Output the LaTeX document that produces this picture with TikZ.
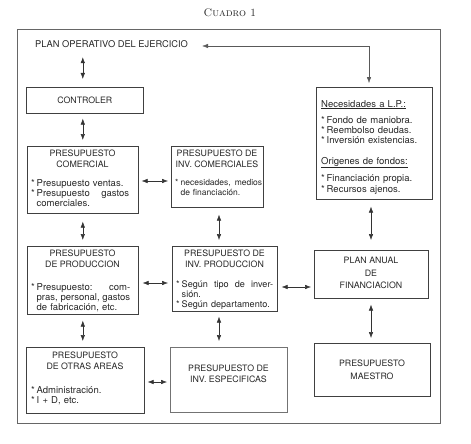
\documentclass[tikz,border=0pt]{standalone}
\usepackage{fontspec}
\usetikzlibrary{arrows.meta,calc}
\newfontfamily\hel{TeX Gyre Heros}
\newcommand\itm{\makebox[5.5pt][l]{*}}
\newcommand\ind{\hspace*{5.5pt}}
\begin{document}
\begin{tikzpicture}[x=1pt,y=-1pt,
  box/.style={draw=black!75,line width=0.6pt,inner sep=0pt,anchor=north west},
  ttl/.style={font=\hel\fontsize{8.8}{10.5}\selectfont,align=center,anchor=north,inner sep=0pt,text=black!85},
  txt/.style={font=\hel\fontsize{9.5}{10}\selectfont,align=left,anchor=north west,inner sep=0pt,text=black!85},
  dbl/.style={{Latex[length=6pt,width=4.5pt]}-{Latex[length=6pt,width=4.5pt]},line width=0.5pt,draw=black!80},
  conn/.style={line width=0.4pt,draw=black!65}]
\useasboundingbox (0,0) rectangle (471,444);
% title and frame
\node[font=\fontsize{11}{13}\selectfont,text=black!85] (cuadro) at (230,13) {\textsc{Cuadro 1}};
\node[box,minimum width=423pt,minimum height=394pt,draw=black!60] (frame) at (17,29) {};
% plan operativo
\node[txt,anchor=west,font=\hel\fontsize{9.3}{10}\selectfont] (plan) at (35,46) {\strut PLAN OPERATIVO DEL EJERCICIO};
% boxes
\node[box,minimum width=117pt,minimum height=26pt,font=\hel\fontsize{8.8}{10}\selectfont,text=black!85] (ctrl) at (26,87) {CONTROLER};
\node[box,minimum width=111pt,minimum height=67pt] (com) at (27,146) {};
\node[box,minimum width=92pt,minimum height=61pt] (invc) at (171,146) {};
\node[box,minimum width=116pt,minimum height=112pt] (nec) at (316,87) {};
\node[box,minimum width=111pt,minimum height=68pt] (prod) at (27,246) {};
\node[box,minimum width=105pt,minimum height=65pt] (invp) at (172,246) {};
\node[box,minimum width=114pt,minimum height=48pt] (pa) at (314,250) {};
\node[box,minimum width=118pt,minimum height=66pt] (otr) at (26,347) {};
\node[box,minimum width=117pt,minimum height=65pt,draw=black!55] (inve) at (170,347) {};
\node[box,minimum width=116pt,minimum height=53pt] (mae) at (314,343) {};
% texts
\node[ttl] (comt) at (82.5,150) {PRESUPUESTO\\COMERCIAL};
\node[txt,text width=98pt] (comi) at (31,179) {\itm Presupuesto ventas.\\\makebox[98pt][l]{\itm Presupuesto\hfill gastos}\\\ind comerciales.};
\node[ttl] (invct) at (217,150) {PRESUPUESTO DE\\INV. COMERCIALES};
\node[txt,text width=87pt,font=\hel\fontsize{8.5}{10.5}\selectfont] (invci) at (175,179) {\makebox[87pt][l]{\itm necesidades,\hfill medios}\\\ind de financiación.};
\node[txt,text width=110pt] (neci) at (321,100) {\underline{Necesidades a L.P.:}\\[6pt]\itm Fondo de maniobra.\\\itm Reembolso deudas.\\\itm Inversión existencias.\\[11pt]\underline{Origenes de fondos:}\\[5pt]\itm Financiación propia.\\[1pt]\itm Recursos ajenos.};
\node[ttl] (prodt) at (82.5,250) {PRESUPUESTO\\DE PRODUCCION};
\node[txt,text width=99pt] (prodi) at (31,283) {\makebox[99pt][l]{\itm Presupuesto:\hfill com-}\\\makebox[99pt][l]{\ind pras,\hfill personal,\hfill gastos}\\\ind de fabricación, etc.};
\node[ttl] (invpt) at (224.5,250) {PRESUPUESTO DE\\INV. PRODUCCION};
\node[txt,text width=97pt,font=\hel\fontsize{9.1}{10}\selectfont] (invpi) at (176,280) {\makebox[97pt][l]{\itm Según\hfill tipo\hfill de\hfill inver-}\\\ind sión.\\\mbox{\itm Según departamento.}};
\node[ttl,font=\hel\fontsize{8.8}{12.5}\selectfont] (pat) at (371,257) {PLAN ANUAL\\DE\\FINANCIACION};
\node[ttl] (otrt) at (85,352) {PRESUPUESTO\\DE OTRAS AREAS};
\node[txt,text width=100pt] (otri) at (31,386) {\itm Administración.\\\itm I + D, etc.};
\node[ttl] (invet) at (228.5,365) {PRESUPUESTO DE\\INV. ESPECIFICAS};
\node[ttl,font=\hel\fontsize{8.8}{13}\selectfont] (maet) at (372,360) {PRESUPUESTO\\MAESTRO};
% connectors
\coordinate (corner) at (369,46);
\draw[conn,{Latex[length=6pt,width=4.5pt]}-{Latex[length=6pt,width=4.5pt]},shorten <=14pt,shorten >=4pt] (plan.east) -- (corner) -- (corner |- nec.north);
\draw[dbl,shorten <=6pt,shorten >=8pt] (plan.south -| com.north) -- (ctrl.north -| com.north);
\draw[dbl,shorten <=5pt,shorten >=6pt] (ctrl.south -| com.north) -- (com.north);
\draw[dbl,shorten <=8pt,shorten >=6pt] (com.south) -- (prod.north);
\draw[dbl,shorten <=6pt,shorten >=6pt] (prod.south) -- (prod.south |- otr.north);
\coordinate (cx) at (219,0);
\draw[dbl,shorten <=7pt,shorten >=6pt] (invc.south -| cx) -- (invp.north -| cx);
\draw[dbl,shorten <=5pt,shorten >=6pt] (invp.south -| cx) -- (inve.north -| cx);
\coordinate (rx) at (371,0);
\draw[dbl,shorten <=7pt,shorten >=10pt] (nec.south -| rx) -- (pa.north -| rx);
\draw[dbl,shorten <=6pt,shorten >=5pt] (pa.south -| rx) -- (mae.north -| rx);
\coordinate (h1) at (0,181);
\coordinate (h2) at (0,283);
\coordinate (h3) at (0,287);
\coordinate (h4) at (0,382);
\draw[dbl,shorten <=3pt,shorten >=3pt] (com.east |- h1) -- (invc.west |- h1);
\draw[dbl,shorten <=4pt,shorten >=4pt] (prod.east |- h2) -- (invp.west |- h2);
\draw[dbl,shorten <=4pt,shorten >=3pt] (invp.east |- h3) -- (pa.west |- h3);
\draw[dbl,shorten <=3pt,shorten >=3pt] (otr.east |- h4) -- (inve.west |- h4);
\end{tikzpicture}
\end{document}
